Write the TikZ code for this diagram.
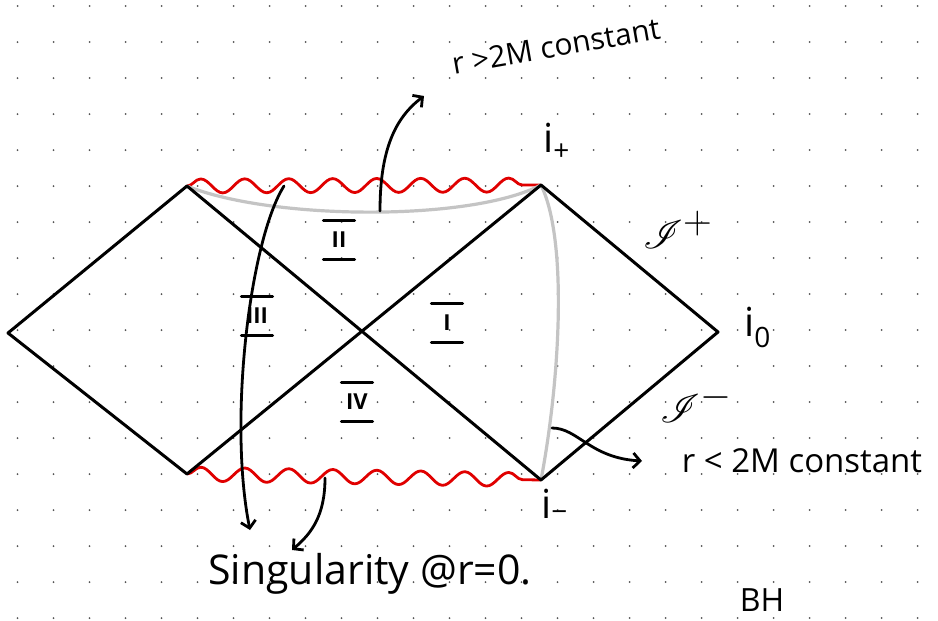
\documentclass[tikz,border=0pt]{standalone}
\usepackage{fontspec}
\usepackage{mathrsfs}
\setmainfont{Open Sans}
\usetikzlibrary{decorations.pathmorphing,arrows.meta}
\definecolor{singred}{HTML}{E00000}
\definecolor{lightline}{HTML}{C4C4C4}
\definecolor{dotc}{HTML}{555555}
\tikzset{
  bhline/.style={line width=3pt, line cap=round, line join=round, black},
  singline/.style={line width=2.8pt, singred, line join=round, decorate,
    decoration={snake, segment length=44pt, amplitude=7pt}},
  constline/.style={line width=3.2pt, lightline, line cap=round},
  pointer/.style={line width=2.8pt, line cap=round, black,
    -{Straight Barb[length=7pt,width=15pt,line width=2.8pt]}},
  handtext/.style={font=\fontsize{30}{30}\selectfont, inner sep=1pt},
  ilabel/.style={font=\fontsize{40}{40}\selectfont, inner sep=0pt, anchor=base west},
  roman/.style={font=\fontsize{22}{22}\selectfont\bfseries, inner sep=0pt,
    minimum width=31pt, minimum height=39pt,
    append after command={
      (\tikzlastnode.north west) edge[line width=2.8pt, line cap=round] (\tikzlastnode.north east)
      (\tikzlastnode.south west) edge[line width=2.8pt, line cap=round] (\tikzlastnode.south east)}}
}
\begin{document}
\begin{tikzpicture}[x=1pt,y=-1pt]
\useasboundingbox (0,0) rectangle (938,621);
\fill[white] (0,0) rectangle (938,621);
% dotted grid
\foreach \i in {0,...,25}{
  \foreach \j in {0,...,17}{
    \fill[dotc] (17.5+36*\i, 6+36*\j) circle (1pt);
  }
}
% corners
\coordinate (L) at (8,333);
\coordinate (TL) at (187,186);
\coordinate (BL) at (187,474);
\coordinate (TR) at (541,185);
\coordinate (BR) at (541,480);
\coordinate (R) at (718,332);
% singularities
\draw[singline] (TL) -- (TR);
\draw[singline] (BL) -- (BR);
% constant r curves
\draw[constline] (TL) .. controls (270,220) and (470,222) .. (TR);
\draw[constline] (TR) .. controls (568,240) and (560,380) .. (BR);
% diagram edges
\draw[bhline] (TL) -- (L) -- (BL);
\draw[bhline] (TL) -- (BR);
\draw[bhline] (BL) -- (TR);
\draw[bhline] (TR) -- (R) -- (BR);
% region labels
\node[roman] (rII) at (339,240) {II};
\node[roman] (rIII) at (257,316) {III};
\node[roman] (rI) at (447,323) {I};
\node[roman] (rIV) at (357,402) {IV};
% labels
\node[handtext, rotate=10] (outer) at (556,46) {r >2M constant};
\node[handtext, font=\fontsize{33}{33}\selectfont] (inner) at (802,461) {r < 2M constant};
\node[handtext, font=\fontsize{41}{41}\selectfont] (sing) at (370,574) {Singularity @r=0.};
\node[handtext, inner sep=0pt, font=\fontsize{32}{32}\selectfont] (bh) at (762,600) {BH};
\node[ilabel] (iplus) at (543,152) {i\textsubscript{+}};
\node[ilabel] (iminus) at (541,518) {i\textsubscript{\textminus}};
\node[ilabel] (izero) at (744,336) {i\textsubscript{0}};
\node[ilabel] (scrip) at (643,248) {\scalebox{1.6}{$\mathscr{I}^{+}$}};
\node[ilabel] (scrim) at (660,422) {\scalebox{1.6}{$\mathscr{I}^{-}$}};
% pointer arrows
\coordinate (a1s) at (380,211);
\coordinate (a1e) at (424,96);
\coordinate (a2s) at (284,186);
\coordinate (a2e) at (250,530);
\coordinate (a3s) at (325,478);
\coordinate (a3e) at (292,550);
\coordinate (a4s) at (552,428);
\coordinate (a4e) at (642,461);
\draw[pointer] (a1s) .. controls (380,150) and (395,118) .. (a1e);
\draw[pointer] (a2s) .. controls (250,240) and (228,420) .. (a2e);
\draw[pointer] (a3s) .. controls (325,515) and (312,533) .. (a3e);
\draw[pointer] (a4s) .. controls (578,428) and (590,458) .. (a4e);
\end{tikzpicture}
\end{document}
